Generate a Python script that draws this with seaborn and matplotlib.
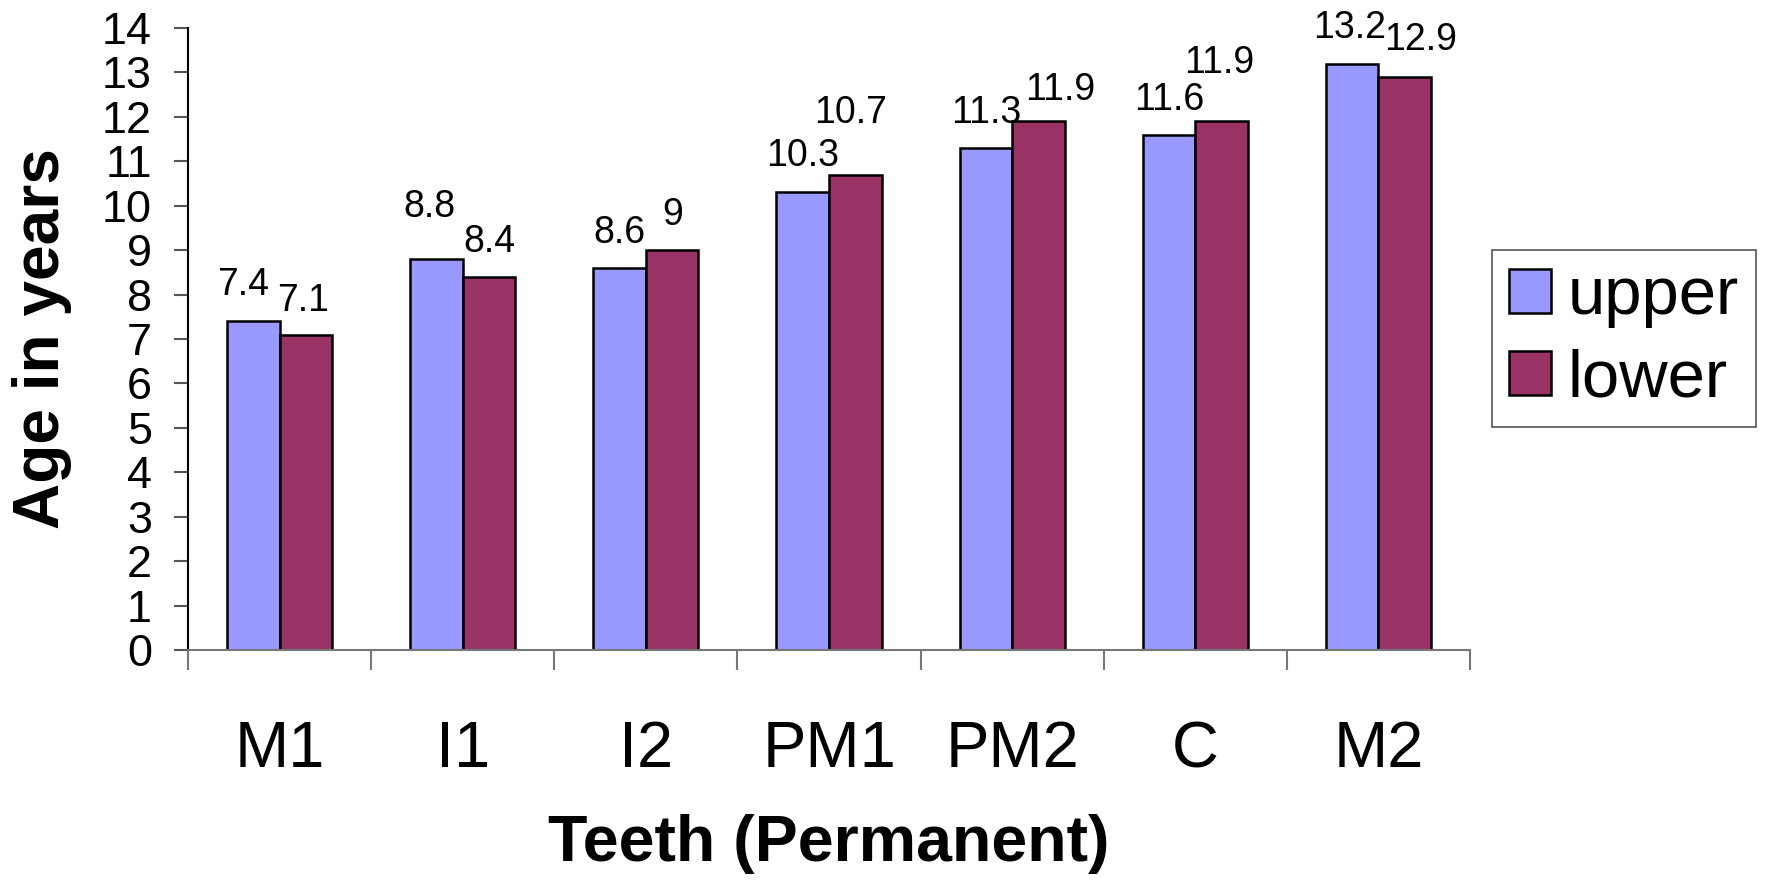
import matplotlib
matplotlib.use("Agg")
import matplotlib.pyplot as plt
import seaborn as sns
import pandas as pd

# data
teeth = ["M1", "I1", "I2", "PM1", "PM2", "C", "M2"]
upper = [7.4, 8.8, 8.6, 10.3, 11.3, 11.6, 13.2]
lower = [7.1, 8.4, 9.0, 10.7, 11.9, 11.9, 12.9]
series = ["upper", "lower"]
colors = ["#9999FF", "#993366"]

# label placement tweaks (pixels): extra lift and sideways shift, Excel-style
lift = {"upper": [1, 17, 0, 1, 0, 0, 1], "lower": [-1, 0, 0, 27, -4, 23, 2]}
shift = {"upper": [-10, -7, 0, 0, 0, 0, -3], "lower": [-3, 0, 0, -5, 22, -2, 16]}

df = pd.DataFrame({
    "tooth": teeth * 2,
    "jaw": ["upper"] * len(teeth) + ["lower"] * len(teeth),
    "age": upper + lower,
})

sns.set_style("white")
plt.rcParams["font.family"] = ["Liberation Sans", "DejaVu Sans"]
plt.rcParams["text.color"] = "black"
plt.rcParams["axes.labelcolor"] = "black"

px = 0.72  # points per pixel at dpi 100
fig = plt.figure(figsize=(17.69, 8.85), dpi=100)
ax = fig.add_axes([188 / 1769, 1 - 650 / 885, 1282 / 1769, 622 / 885])

sns.barplot(data=df, x="tooth", y="age", hue="jaw", order=teeth, hue_order=series,
            palette=colors, width=0.574, gap=0, edgecolor="black", linewidth=1.8,
            saturation=1, ax=ax)

# value labels above bars
vals = {"upper": upper, "lower": lower}
for name, cont in zip(series, ax.containers):
    for i, bar in enumerate(cont.patches):
        v = vals[name][i]
        ax.annotate(f"{v:g}", xy=(bar.get_x() + bar.get_width() / 2, bar.get_height()),
                    xytext=(shift[name][i] * px, (25 + lift[name][i]) * px),
                    textcoords="offset points", ha="center", va="baseline",
                    fontsize=37.5 * px, color="black")

ax.set_ylim(0, 14)
ax.set_xlim(-0.5, len(teeth) - 0.5)
ax.set_yticks(range(0, 15))
ax.set_xticks(range(len(teeth)))
ax.set_xticks([i - 0.5 for i in range(len(teeth) + 1)], minor=True)
ax.tick_params(axis="y", labelsize=45 * px, length=14 * px, width=1.5, color="#555555",
               labelcolor="black", pad=22 * px, left=True)
ax.tick_params(axis="x", which="major", labelsize=65 * px, length=0, pad=70 * px,
               labelcolor="black")
ax.tick_params(axis="x", which="minor", length=20 * px, width=1.5, color="#777777",
               direction="out", bottom=True)

for s in ["top", "right"]:
    ax.spines[s].set_visible(False)
ax.spines["left"].set_color("black")
ax.spines["left"].set_linewidth(1.5)
ax.spines["bottom"].set_color("#777777")
ax.spines["bottom"].set_linewidth(1.5)

ax.set_ylabel("Age in years", fontsize=64 * px, fontweight="bold", va="center")
ax.yaxis.set_label_coords((42 - 188) / 1282, 0.5)
ax.set_xlabel("Teeth (Permanent)", fontsize=64.5 * px, fontweight="bold", va="center")
ax.xaxis.set_label_coords(0.5, -(844 - 650) / 622)

handles, labels = ax.get_legend_handles_labels()
for h in handles:
    h.set_edgecolor("black")
    h.set_linewidth(1.8)
leg = fig.legend(handles, labels, loc="center left", bbox_to_anchor=(1492 / 1769, 1 - 338.5 / 885),
                 fontsize=67 * px, handlelength=0.63, handleheight=0.63, handletextpad=0.25,
                 borderpad=0.25, labelspacing=0.3, fancybox=False, framealpha=1,
                 edgecolor="#555555", borderaxespad=0)
leg.get_frame().set_linewidth(1.2)
for t in leg.get_texts():
    t.set_color("black")
if ax.get_legend() is not None:
    ax.get_legend().remove()

fig.savefig("out.png", dpi=100)
